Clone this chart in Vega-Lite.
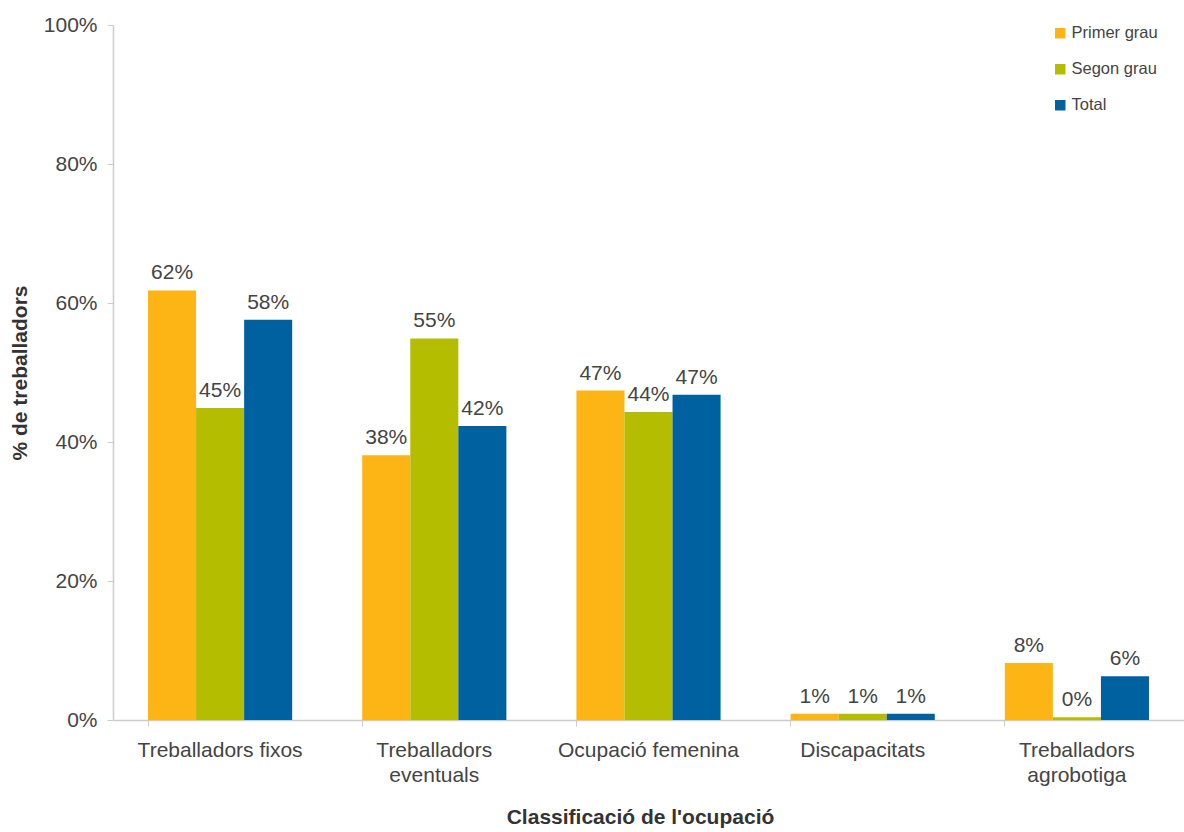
{
  "$schema": "https://vega.github.io/schema/vega-lite/v6.json",
  "width": 1071,
  "height": 695,
  "autosize": "none",
  "padding": {"left": 113, "top": 25, "right": 0, "bottom": 112},
  "background": "white",
  "config": {
    "font": "Liberation Sans",
    "view": {"stroke": null}
  },
  "data": {
    "values": [
      {"cat": "Treballadors fixos", "serie": "Primer grau", "value": 0.618},
      {"cat": "Treballadors fixos", "serie": "Segon grau", "value": 0.449},
      {"cat": "Treballadors fixos", "serie": "Total", "value": 0.576},
      {"cat": "Treballadors|eventuals", "serie": "Primer grau", "value": 0.381},
      {"cat": "Treballadors|eventuals", "serie": "Segon grau", "value": 0.549},
      {"cat": "Treballadors|eventuals", "serie": "Total", "value": 0.423},
      {"cat": "Ocupació femenina", "serie": "Primer grau", "value": 0.474},
      {"cat": "Ocupació femenina", "serie": "Segon grau", "value": 0.443},
      {"cat": "Ocupació femenina", "serie": "Total", "value": 0.468},
      {"cat": "Discapacitats", "serie": "Primer grau", "value": 0.009},
      {"cat": "Discapacitats", "serie": "Segon grau", "value": 0.009},
      {"cat": "Discapacitats", "serie": "Total", "value": 0.009},
      {"cat": "Treballadors|agrobotiga", "serie": "Primer grau", "value": 0.082},
      {"cat": "Treballadors|agrobotiga", "serie": "Segon grau", "value": 0.004},
      {"cat": "Treballadors|agrobotiga", "serie": "Total", "value": 0.063}
    ]
  },
  "encoding": {
    "x": {
      "field": "cat",
      "type": "nominal",
      "sort": null,
      "scale": {"paddingInner": 0.327, "paddingOuter": 0.1635},
      "axis": {
        "title": "Classificació de l'ocupació",
        "titleFontSize": 21,
        "titleFontWeight": "bold",
        "titleColor": "#333",
        "titleX": 527,
        "titleY": 86,
        "titleBaseline": "top",
        "labelAngle": 0,
        "labelFontSize": 21,
        "labelColor": "#444",
        "labelPadding": 13,
        "labelLineHeight": 25,
        "labelLimit": 0,
        "labelExpr": "split(datum.label, '|')",
        "bandPosition": 0,
        "tickSize": 6,
        "tickColor": "#ccc",
        "domainColor": "#ccc",
        "domainWidth": 1.5
      }
    },
    "xOffset": {
      "field": "serie",
      "type": "nominal",
      "sort": ["Primer grau", "Segon grau", "Total"],
      "scale": {"paddingInner": 0, "paddingOuter": 0}
    },
    "y": {
      "field": "value",
      "type": "quantitative",
      "scale": {"domain": [0, 1]},
      "axis": {
        "title": "% de treballadors",
        "titleFontSize": 21,
        "titleFontWeight": "bold",
        "titleColor": "#333",
        "titleX": -83,
        "titleY": 347.5,
        "titleBaseline": "bottom",
        "format": ".0%",
        "values": [0, 0.2, 0.4, 0.6, 0.8, 1],
        "grid": false,
        "labelFontSize": 21,
        "labelColor": "#444",
        "labelPadding": 10,
        "tickSize": 6,
        "tickColor": "#ccc",
        "domainColor": "#ccc",
        "domainWidth": 1.5
      }
    }
  },
  "layer": [
    {
      "mark": {"type": "bar"},
      "encoding": {
        "color": {
          "field": "serie",
          "type": "nominal",
          "sort": ["Primer grau", "Segon grau", "Total"],
          "scale": {"domain": ["Primer grau", "Segon grau", "Total"], "range": ["#FDB515", "#B5BD00", "#0061A0"]},
          "legend": {
            "title": null,
            "orient": "none",
            "legendX": 939,
            "legendY": 0,
            "symbolType": "square",
            "symbolSize": 110,
            "symbolStrokeWidth": 0,
            "labelFontSize": 16.5,
            "labelColor": "#444",
            "labelOffset": 3,
            "rowPadding": 19
          }
        }
      }
    },
    {
      "mark": {"type": "text", "baseline": "bottom", "dy": -7, "fontSize": 21, "color": "#444"},
      "encoding": {
        "text": {"field": "value", "type": "quantitative", "format": ".0%"}
      }
    }
  ]
}
